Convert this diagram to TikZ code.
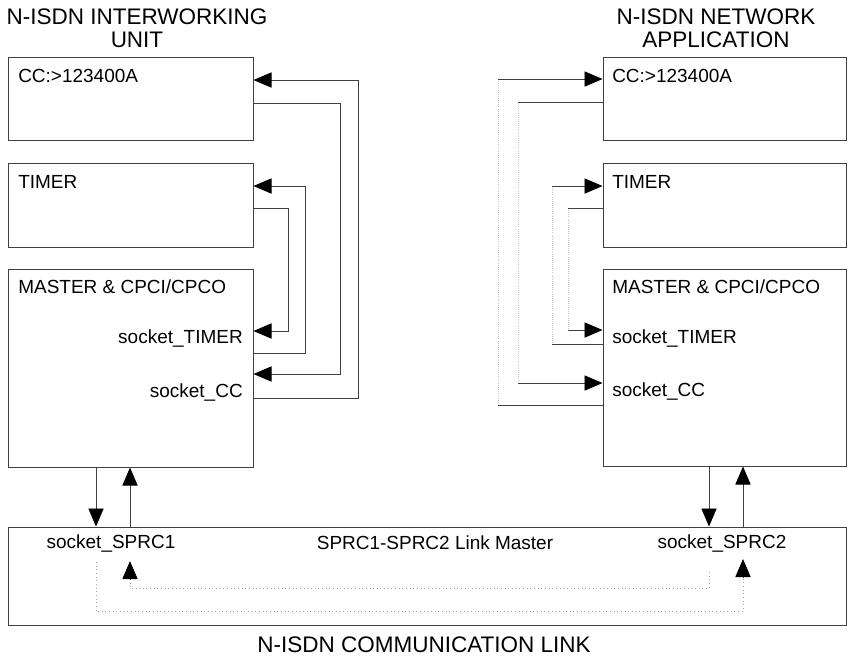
\documentclass[tikz,border=0pt]{standalone}
\usepackage{fontspec}
\setmainfont{Liberation Sans}
\usetikzlibrary{arrows.meta,fit,positioning}

\tikzset{
  box/.style={draw=black!75, line width=0.7pt, inner sep=0pt},
  wire/.style={draw=black!75, line width=0.6pt},
  arr/.style={wire, -{Triangle[length=0.45cm,width=0.38cm,color=black]}},
  faint/.style={draw=black!22, line width=0.5pt, densely dotted},
  dotlink/.style={draw=black!35, line width=0.6pt, dotted},
  lbl/.style={font=\fontsize{13.5}{16}\selectfont, inner sep=0pt},
  ttl/.style={font=\fontsize{16}{16.5}\selectfont, align=center, inner sep=0pt}
}

\begin{document}
\begin{tikzpicture}[x=0.025cm,y=-0.025cm]
\useasboundingbox (0,0) rectangle (848,659);

\node[ttl] (tiwu) at (137,28) {N-ISDN INTERWORKING\\UNIT};
\node[ttl] (tnap) at (716,28) {N-ISDN NETWORK\\APPLICATION};
\node[ttl] (tlnk) at (424,645) {N-ISDN COMMUNICATION LINK};

\node[box, fit={(8,57) (253,140)}] (ccA) {};
\node[box, fit={(8,163) (253,247)}] (tmA) {};
\node[box, fit={(8,269) (253,467)}] (msA) {};
\node[box, fit={(603,57) (846,140)}] (ccB) {};
\node[box, fit={(603,163) (846,247)}] (tmB) {};
\node[box, fit={(603,269) (846,466)}] (msB) {};
\node[box, fit={(8,527) (846,625)}] (lnk) {};

\node[lbl, anchor=west] (ccAt) at (18,76) {CC:>123400A};
\node[lbl, anchor=west] (tmAt) at (18,182) {TIMER};
\node[lbl, anchor=west] (msAt) at (18,287) {MASTER \& CPCI/CPCO};
\node[lbl, anchor=east] (skTA) at (243,339) {socket\_TIMER};
\node[lbl, anchor=east] (skCA) at (243,393) {socket\_CC};

\node[lbl, anchor=west] (ccBt) at (612,76) {CC:>123400A};
\node[lbl, anchor=west] (tmBt) at (612,182) {TIMER};
\node[lbl, anchor=west] (msBt) at (612,287) {MASTER \& CPCI/CPCO};
\node[lbl, anchor=west] (skTB) at (612,339) {socket\_TIMER};
\node[lbl, anchor=west] (skCB) at (612,392) {socket\_CC};

\node[lbl] (sp1) at (111,543) {socket\_SPRC1};
\node[lbl] (lkm) at (435,543) {SPRC1-SPRC2 Link Master};
\node[lbl] (sp2) at (722,543) {socket\_SPRC2};

\draw[arr] (msA.east |- 0,398) -| (358,80) -- (ccA.east |- 0,80);
\draw[arr] (ccA.east |- 0,103) -| (340,374) -- (msA.east |- 0,374);
\draw[arr] (msA.east |- 0,353) -| (305,186) -- (tmA.east |- 0,186);
\draw[arr] (tmA.east |- 0,208) -| (288,331) -- (msA.east |- 0,331);

\draw[faint] (498,79) -- (498,405);
\draw[faint] (518,102) -- (518,383);
\draw[faint] (552,186) -- (552,344);
\draw[faint] (568,208) -- (568,330);
\draw[wire] (msB.west |- 0,405) -- (498,405);
\draw[arr] (498,79) -- (ccB.west |- 0,79);
\draw[wire] (ccB.west |- 0,102) -- (518,102);
\draw[arr] (518,383) -- (msB.west |- 0,383);
\draw[wire] (msB.west |- 0,344) -- (552,344);
\draw[arr] (552,186) -- (tmB.west |- 0,186);
\draw[wire] (tmB.west |- 0,208) -- (568,208);
\draw[arr] (568,330) -- (msB.west |- 0,330);

\draw[arr] (msA.south -| 96,0) -- (lnk.north -| 96,0);
\draw[arr] (lnk.north -| 130,0) -- (msA.south -| 130,0);
\draw[arr] (msB.south -| 709,0) -- (lnk.north -| 709,0);
\draw[arr] (lnk.north -| 743,0) -- (msB.south -| 743,0);

\coordinate (in1) at (130,561);
\coordinate (in2) at (743,559);
\draw[dotlink] (709,572) -- (709,588) -- (130,588) -- (130,578);
\draw[dotlink] (96,562) -- (96,611) -- (743,611) -- (743,576);
\draw[arr] (130,579) -- (in1);
\draw[arr] (743,577) -- (in2);
\end{tikzpicture}
\end{document}
